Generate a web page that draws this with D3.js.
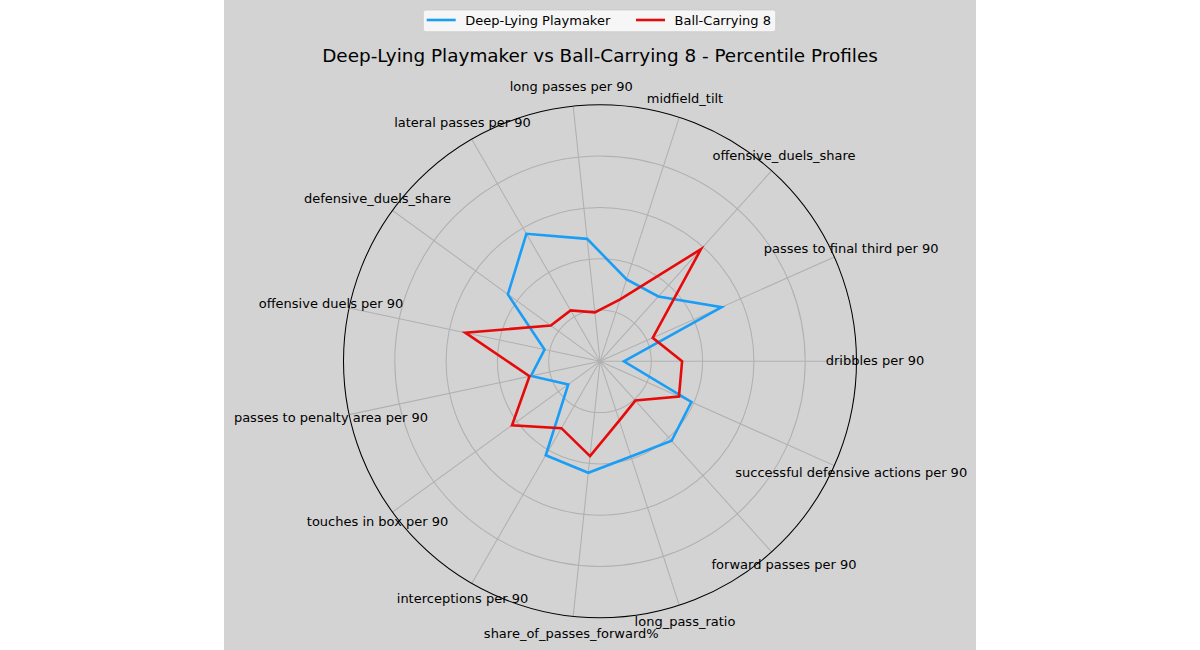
<!DOCTYPE html>
<html>
<head>
<meta charset="utf-8">
<script src="https://cdn.jsdelivr.net/npm/d3@7"></script>
<style>
  html, body { margin: 0; padding: 0; background: #ffffff; }
  svg { display: block; }
  text { font-family: "DejaVu Sans", sans-serif; fill: #000; }
</style>
</head>
<body>
<svg id="chart" width="1200" height="650"></svg>
<script>
// ---- Data ----
const categories = [
  "dribbles per 90",
  "passes to final third per 90",
  "offensive_duels_share",
  "midfield_tilt",
  "long passes per 90",
  "lateral passes per 90",
  "defensive_duels_share",
  "offensive duels per 90",
  "passes to penalty area per 90",
  "touches in box per 90",
  "interceptions per 90",
  "share_of_passes_forward%",
  "long_pass_ratio",
  "forward passes per 90",
  "successful defensive actions per 90"
];
const seriesNames = ["Deep-Lying Playmaker", "Ball-Carrying 8"];
const deepLyingPlaymaker = [9.3, 51.9, 34, 33.6, 48, 57.4, 44.4, 22.1, 27.5, 15.3, 42.3, 43.7, 39, 41.7, 39];
const ballCarrying8      = [32, 22.5, 58.8, 25.4, 19.2, 22.9, 23.7, 53.7, 28.1, 42.4, 30.1, 37.2, 24.3, 20.6, 33.7];
const gridTicks = [20, 40, 60, 80];
const titleText = "Deep-Lying Playmaker vs Ball-Carrying 8 - Percentile Profiles";

// ---- Layout ----
const W = 1200, H = 650;
const figX0 = 224, figX1 = 976;
const cx = 600, cy = 361.3, R = 256.5;
const colors = ["#1a9ef5", "#e60b0b"];

const svg = d3.select("#chart");
svg.append("rect").attr("x", figX0).attr("y", 0).attr("width", figX1 - figX0).attr("height", H).attr("fill", "#d3d3d3");

const r = d3.scaleLinear().domain([0, 100]).range([0, R]);
// matplotlib-style angle: counterclockwise from 3 o'clock
const theta = d3.scaleLinear().domain([0, categories.length]).range([0, 2 * Math.PI]);
const d3Angle = i => Math.PI / 2 - theta(i); // d3 radial angle (clockwise from 12)

const g = svg.append("g").attr("transform", `translate(${cx},${cy})`);

// grid circles
g.selectAll("circle.grid").data(gridTicks).join("circle")
  .attr("class", "grid")
  .attr("r", d => r(d)).attr("fill", "none")
  .attr("stroke", "#b0b0b0").attr("stroke-width", 1.04);

// spokes
g.selectAll("line.spoke").data(categories).join("line")
  .attr("class", "spoke")
  .attr("x1", 0).attr("y1", 0)
  .attr("x2", (d, i) => r(100) * Math.cos(theta(i)))
  .attr("y2", (d, i) => -r(100) * Math.sin(theta(i)))
  .attr("stroke", "#b0b0b0").attr("stroke-width", 1.04);

// outer circle
g.append("circle").attr("r", r(100)).attr("fill", "none")
  .attr("stroke", "#000").attr("stroke-width", 1.04);

// series
const line = d3.lineRadial()
  .angle((d, i) => d3Angle(i))
  .radius(d => r(d))
  .curve(d3.curveLinearClosed);

[deepLyingPlaymaker, ballCarrying8].forEach((vals, k) => {
  g.append("path").datum(vals)
    .attr("d", line)
    .attr("fill", "none")
    .attr("stroke", colors[k])
    .attr("stroke-width", 2.6)
    .attr("stroke-linejoin", "miter");
});

// category labels
const labelR = 275;
g.selectAll("text.cat").data(categories).join("text")
  .attr("class", "cat")
  .attr("x", (d, i) => labelR * Math.cos(theta(i)))
  .attr("y", (d, i) => -labelR * Math.sin(theta(i)) - 1)
  .attr("text-anchor", "middle")
  .attr("dominant-baseline", "central")
  .attr("font-size", 13)
  .text(d => d);

// title
svg.append("text").attr("x", 600).attr("y", 62.3)
  .attr("text-anchor", "middle").attr("font-size", 18.4)
  .text(titleText);

// legend
const lg = svg.append("g");
lg.append("rect").attr("x", 423.3).attr("y", 10).attr("width", 352.4).attr("height", 21.7)
  .attr("rx", 2.6).attr("ry", 2.6)
  .attr("fill", "#ffffff").attr("fill-opacity", 0.8)
  .attr("stroke", "#cccccc").attr("stroke-opacity", 0.8).attr("stroke-width", 1);
const legendItems = [
  { name: seriesNames[0], color: colors[0], x: 426.7 },
  { name: seriesNames[1], color: colors[1], x: 636 }
];
legendItems.forEach(it => {
  lg.append("line").attr("x1", it.x).attr("x2", it.x + 29).attr("y1", 20).attr("y2", 20)
    .attr("stroke", it.color).attr("stroke-width", 2.6);
  lg.append("text").attr("x", it.x + 38.5).attr("y", 20).attr("dominant-baseline", "central")
    .attr("font-size", 13).text(it.name);
});
</script>
</body>
</html>
